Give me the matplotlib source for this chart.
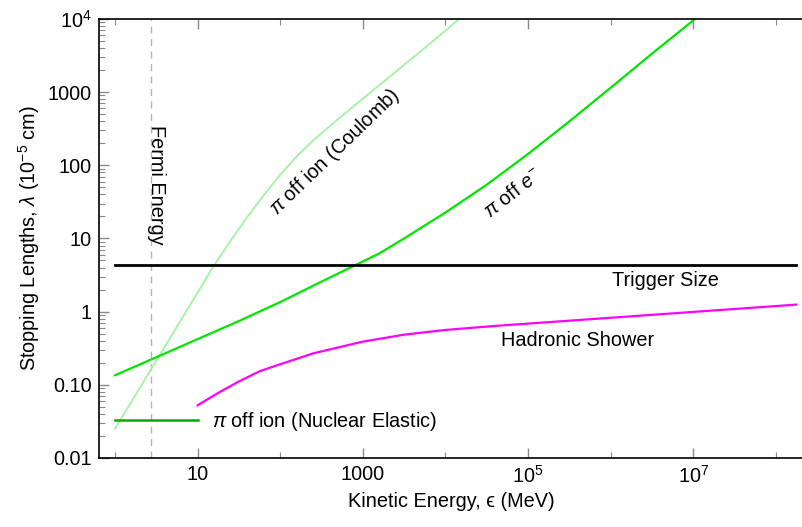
import numpy as np
import matplotlib
matplotlib.use("Agg")
import matplotlib.pyplot as plt
from matplotlib.ticker import FixedLocator, NullFormatter

plt.rcParams['font.family'] = ['Liberation Sans', 'DejaVu Sans']
plt.rcParams['font.size'] = 14.3
plt.rcParams['mathtext.fontset'] = 'custom'
plt.rcParams['mathtext.rm'] = 'Liberation Sans'
plt.rcParams['mathtext.it'] = 'Liberation Sans:italic'

# --- DATA ---
coulomb_e = [1.0, 2.51, 6.31, 10, 15.8, 25.1, 39.8, 63.1, 100, 158, 251, 501, 1000, 2512, 6310, 15850]
coulomb_len = [0.0251, 0.139, 0.773, 1.82, 4.27, 9.33, 19.5, 38.9, 74.1, 132, 219, 427, 813, 1905, 4467, 10715]

electron_e = [1.0, 3.16, 10, 31.6, 100, 316, 1000, 1585, 3162, 1e4, 3.16e4, 1e5, 3.16e5, 1e6, 3.16e6, 1.12e7]
electron_len = [0.135, 0.238, 0.421, 0.743, 1.35, 2.57, 4.84, 6.24, 10.0, 22.6, 54.2, 142.6, 397, 1146, 3342, 10593]

hadron_e = [10, 17.8, 31.6, 56.2, 100, 251, 1000, 3162, 1e4, 3.98e4, 3.16e5, 3.16e6, 3.16e7, 1.78e8]
hadron_len = [0.0525, 0.0776, 0.111, 0.153, 0.191, 0.269, 0.389, 0.484, 0.562, 0.637, 0.752, 0.904, 1.087, 1.247]

nuclear_e = [1.0, 10.0]
nuclear_len = [0.0335, 0.0335]

trigger_e = [1.0, 1.78e8]
trigger_size = 4.3

fermi_energy = 2.7

x_major = [10, 1e3, 1e5, 1e7]
x_major_labels = ['10', '1000', '$10^5$', '$10^7$']
x_minor = [1, 100, 1e4, 1e6, 1e8]
y_major = [0.01, 0.1, 1, 10, 100, 1000, 1e4]
y_major_labels = ['0.01', '0.10', '1', '10', '100', '1000', '$10^4$']

# --- PLOT ---
fig = plt.figure(figsize=(8.03, 5.27), dpi=100)
ax = fig.add_axes([0.1233, 0.131, 0.8767, 0.833])

ax.axvline(fermi_energy, color='#b4b4b4', linestyle=(0, (5, 4)), linewidth=1.0)
ax.plot(coulomb_e, coulomb_len, color='#a8f2a8', linewidth=1.4)
ax.plot(electron_e, electron_len, color='#00e600', linewidth=1.6)
ax.plot(hadron_e, hadron_len, color='#ff00ff', linewidth=1.6)
ax.plot(nuclear_e, nuclear_len, color='#00b000', linewidth=1.8)
ax.plot(trigger_e, [trigger_size, trigger_size], color='black', linewidth=2.0)

ax.set_xscale('log')
ax.set_yscale('log')
ax.set_xlim(0.64, 10 ** 8.33)
ax.set_ylim(0.01, 1e4)

ax.xaxis.set_major_locator(FixedLocator(x_major))
ax.set_xticklabels(x_major_labels)
ax.xaxis.set_minor_locator(FixedLocator(x_minor))
ax.xaxis.set_minor_formatter(NullFormatter())
ax.yaxis.set_major_locator(FixedLocator(y_major))
ax.set_yticklabels(y_major_labels)
y_minor = [m * 10.0 ** k for k in range(-2, 4) for m in range(2, 10)]
ax.yaxis.set_minor_locator(FixedLocator(y_minor))
ax.yaxis.set_minor_formatter(NullFormatter())

ax.tick_params(which='both', direction='in', color='#8a8a8a', top=True, right=False)
ax.tick_params(which='major', length=7, width=1.0, pad=5)
ax.tick_params(which='minor', length=4, width=0.8)
ax.spines['right'].set_visible(False)
for s in ['left', 'bottom', 'top']:
    ax.spines[s].set_linewidth(1.2)

ax.set_xlabel('Kinetic Energy, ϵ (MeV)', labelpad=4)
ax.set_ylabel(r'Stopping Lengths, $\lambda$ ($10^{-5}$ cm)', labelpad=4)

# curve labels
ax.text(3.2, 54, 'Fermi Energy', rotation=270, ha='center', va='center')
ax.text(460, 154, r'$\pi$ off ion (Coulomb)', rotation=44, ha='center', va='center',
        rotation_mode='anchor')
ax.text(6.6e4, 42, r'$\pi$ off $e^{-}$', rotation=38, ha='center', va='center',
        rotation_mode='anchor')
ax.text(4.6e6, 2.65, 'Trigger Size', ha='center', va='center')
ax.text(4.0e5, 0.40, 'Hadronic Shower', ha='center', va='center')
ax.text(14.9, 0.032, r'$\pi$ off ion (Nuclear Elastic)', ha='left', va='center')

fig.savefig('out.png', dpi=100)
